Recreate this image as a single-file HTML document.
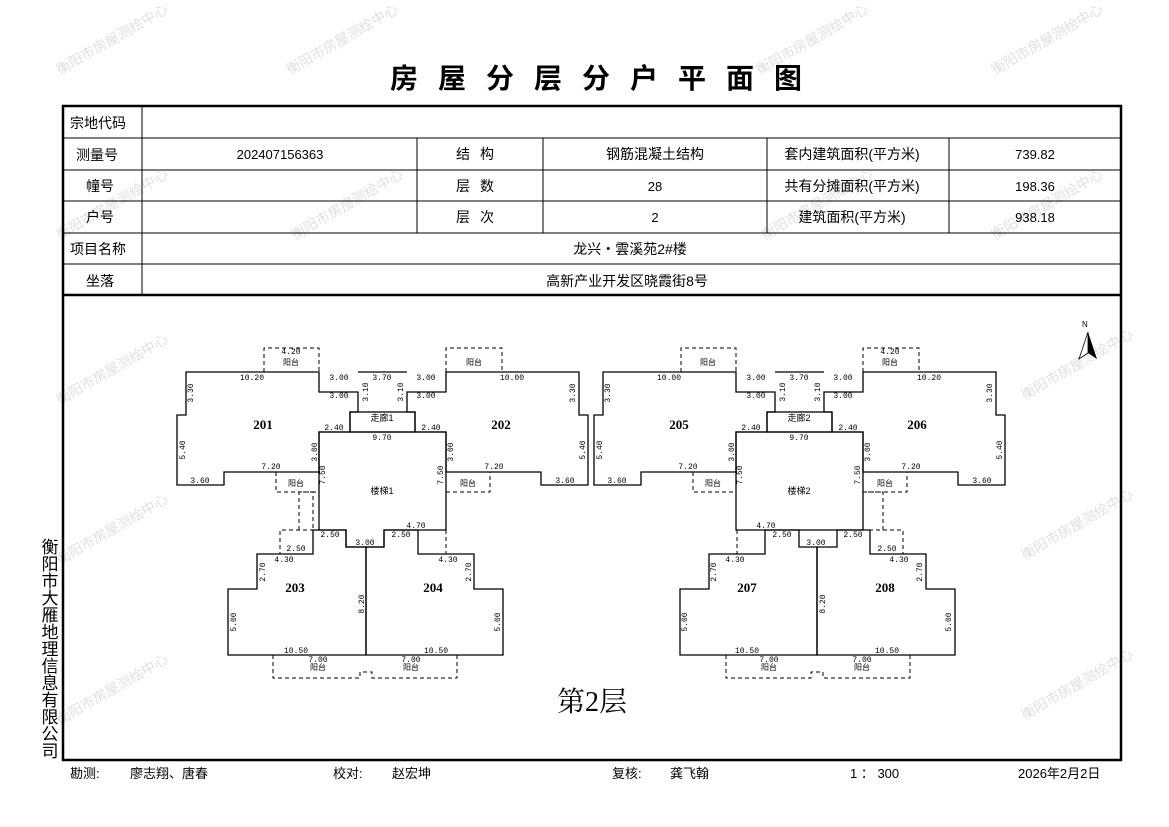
<!DOCTYPE html>
<html><head><meta charset="utf-8"><style>
html,body{margin:0;padding:0;background:#fff;}
body{width:1169px;height:827px;position:relative;overflow:hidden;font-family:"Liberation Sans","Noto Sans CJK SC",sans-serif;}
svg{position:absolute;left:0;top:0;}
</style></head><body>
<svg width="1169" height="827" viewBox="0 0 1169 827" xmlns="http://www.w3.org/2000/svg" font-family="Liberation Sans, Noto Sans CJK SC, sans-serif">
<!-- watermarks -->
<g fill="#e0e0e0" font-size="14">
<text transform="translate(60,75) rotate(-30)">衡阳市房屋测绘中心</text>
<text transform="translate(290,75) rotate(-30)">衡阳市房屋测绘中心</text>
<text transform="translate(760,75) rotate(-30)">衡阳市房屋测绘中心</text>
<text transform="translate(995,75) rotate(-30)">衡阳市房屋测绘中心</text>
<text transform="translate(60,240) rotate(-30)">衡阳市房屋测绘中心</text>
<text transform="translate(295,240) rotate(-30)">衡阳市房屋测绘中心</text>
<text transform="translate(765,240) rotate(-30)">衡阳市房屋测绘中心</text>
<text transform="translate(995,240) rotate(-30)">衡阳市房屋测绘中心</text>
<text transform="translate(60,405) rotate(-30)">衡阳市房屋测绘中心</text>
<text transform="translate(1025,400) rotate(-30)">衡阳市房屋测绘中心</text>
<text transform="translate(60,565) rotate(-30)">衡阳市房屋测绘中心</text>
<text transform="translate(1025,560) rotate(-30)">衡阳市房屋测绘中心</text>
<text transform="translate(60,725) rotate(-30)">衡阳市房屋测绘中心</text>
<text transform="translate(1025,720) rotate(-30)">衡阳市房屋测绘中心</text>
</g>
<!-- title -->
<text x="606" y="88" font-size="28" font-weight="bold" text-anchor="middle" letter-spacing="20">房屋分层分户平面图</text>
<!-- table -->
<g stroke="#000" fill="none">
<rect x="63" y="106" width="1058" height="654" stroke-width="2.5"/>
<line x1="63" y1="295" x2="1121" y2="295" stroke-width="2.5"/>
<g stroke-width="1">
<line x1="63" y1="138" x2="1121" y2="138"/>
<line x1="63" y1="170" x2="1121" y2="170"/>
<line x1="63" y1="201" x2="1121" y2="201"/>
<line x1="63" y1="233" x2="1121" y2="233"/>
<line x1="63" y1="264" x2="1121" y2="264"/>
<line x1="142" y1="106" x2="142" y2="295"/>
<line x1="417" y1="138" x2="417" y2="233"/>
<line x1="543" y1="138" x2="543" y2="233"/>
<line x1="767" y1="138" x2="767" y2="233"/>
<line x1="949" y1="138" x2="949" y2="233"/>
</g></g>
<g font-size="14" fill="#000">
<text x="70" y="128">宗地代码</text>
<text x="76" y="160">测量号</text>
<text x="86" y="191">幢号</text>
<text x="86" y="222">户号</text>
<text x="70" y="254">项目名称</text>
<text x="86" y="286">坐落</text>
<text x="280" y="159" text-anchor="middle" font-size="13">202407156363</text>
<text x="480" y="159" text-anchor="middle" letter-spacing="10">结构</text>
<text x="480" y="191" text-anchor="middle" letter-spacing="10">层数</text>
<text x="480" y="222" text-anchor="middle" letter-spacing="10">层次</text>
<text x="655" y="159" text-anchor="middle">钢筋混凝土结构</text>
<text x="655" y="191" text-anchor="middle" font-size="13">28</text>
<text x="655" y="222" text-anchor="middle" font-size="13">2</text>
<text x="852" y="159" text-anchor="middle">套内建筑面积(平方米)</text>
<text x="852" y="191" text-anchor="middle">共有分摊面积(平方米)</text>
<text x="852" y="222" text-anchor="middle">建筑面积(平方米)</text>
<text x="1035" y="159" text-anchor="middle" font-size="13">739.82</text>
<text x="1035" y="191" text-anchor="middle" font-size="13">198.36</text>
<text x="1035" y="222" text-anchor="middle" font-size="13">938.18</text>
<text x="630" y="254" text-anchor="middle">龙兴・雲溪苑2#楼</text>
<text x="627" y="286" text-anchor="middle">高新产业开发区晓霞街8号</text>
</g>
<!-- left vertical company -->
<g font-size="17" fill="#000" text-anchor="middle">
<text x="50" y="553">衡</text><text x="50" y="570">阳</text><text x="50" y="587">市</text><text x="50" y="604">大</text><text x="50" y="621">雁</text><text x="50" y="638">地</text><text x="50" y="655">理</text><text x="50" y="672">信</text><text x="50" y="689">息</text><text x="50" y="706">有</text><text x="50" y="723">限</text><text x="50" y="740">公</text><text x="50" y="757">司</text>
</g>
<!-- footer -->
<g font-size="13" fill="#000">
<text x="70" y="778">勘测:</text><text x="130" y="778">廖志翔、唐春</text>
<text x="333" y="778">校对:</text><text x="392" y="778">赵宏坤</text>
<text x="612" y="778">复核:</text><text x="670" y="778">龚飞翰</text>
<text x="850" y="778">1 ： 300</text>
<text x="1018" y="778">2026年2月2日</text>
</g>
<!-- north arrow -->
<g><text x="1082" y="327" font-size="8">N</text><polygon points="1088,332 1097,359 1088,353" fill="#000"/><polygon points="1088,332 1079,359 1088,353" fill="#fff" stroke="#000" stroke-width="0.8"/></g>

<!-- LEFT TOP building shapes -->
<g fill="none" stroke="#000" stroke-width="1.3">
<polygon points="186,372 319,372 319,392 358,392 358,412 350,412 350,432 319,432 319,472 224,472 224,485 177,485 177,415 186,415"/>
<polygon points="579,372 446,372 446,392 407,392 407,412 415,412 415,432 446,432 446,472 541,472 541,485 588,485 588,415 579,415"/>
<polygon points="319,432 446,432 446,530 384,530 384,547 346,547 346,530 319,530"/>
<rect x="350" y="412" width="65" height="20"/>
<g stroke-dasharray="4,3" stroke-width="1">
<polyline points="264,372 264,348 319,348 319,372"/>
<polyline points="446,372 446,348 502,348 502,372"/>
<line x1="358" y1="412" x2="407" y2="412"/>
<polyline points="276,472 276,492 319,492"/>
<polyline points="446,492 490,492 490,472"/>
</g>
<line x1="358" y1="372" x2="407" y2="372"/>
</g>
<!-- right top shapes -->
<g transform="translate(417,0)" fill="none" stroke="#000" stroke-width="1.3">
<polygon points="186,372 319,372 319,392 358,392 358,412 350,412 350,432 319,432 319,472 224,472 224,485 177,485 177,415 186,415"/>
<polygon points="579,372 446,372 446,392 407,392 407,412 415,412 415,432 446,432 446,472 541,472 541,485 588,485 588,415 579,415"/>
<polygon points="319,432 446,432 446,530 319,530"/>
<rect x="350" y="412" width="65" height="20"/>
<g stroke-dasharray="4,3" stroke-width="1">
<polyline points="264,372 264,348 319,348 319,372"/>
<polyline points="446,372 446,348 502,348 502,372"/>
<line x1="358" y1="412" x2="407" y2="412"/>
<polyline points="276,472 276,492 319,492"/>
<polyline points="446,492 490,492 490,472"/>
</g>
<line x1="358" y1="372" x2="407" y2="372"/>
</g>
<!-- bottom left -->
<g fill="none" stroke="#000" stroke-width="1.3">
<polygon points="366,547 346,547 346,530 313,530 313,554 257,554 257,589 228,589 228,655 366,655"/>
<polygon points="366,547 384,547 384,530 418,530 418,554 474,554 474,589 503,589 503,655 366,655"/>
<g stroke-dasharray="4,3" stroke-width="1">
<polyline points="299,530 299,492 313,492 313,530"/>
<polyline points="257,554 280,554 280,530 313,530"/>
<polyline points="418,530 446,530 446,554 418,554"/>
<polyline points="273,655 273,678 360,678 360,672 372,672 372,678 457,678 457,655"/>
</g>
</g>
<g transform="translate(1183,0) scale(-1,1)" fill="none" stroke="#000" stroke-width="1.3">
<polygon points="366,547 346,547 346,530 313,530 313,554 257,554 257,589 228,589 228,655 366,655"/>
<polygon points="366,547 384,547 384,530 418,530 418,554 474,554 474,589 503,589 503,655 366,655"/>
<g stroke-dasharray="4,3" stroke-width="1">
<polyline points="300,530 300,492 320,492"/>
<polyline points="257,554 280,554 280,530 313,530"/>
<polyline points="418,530 446,530 446,554 418,554"/>
<polyline points="273,655 273,678 360,678 360,672 372,672 372,678 457,678 457,655"/>
</g>
</g>

<!-- labels -->
<g font-family="Liberation Serif, Noto Serif CJK SC, serif" font-weight="bold" font-size="13" text-anchor="middle">
<text x="263" y="429">201</text><text x="501" y="429">202</text>
<text x="679" y="429">205</text><text x="917" y="429">206</text>
<text x="295" y="592">203</text><text x="433" y="592">204</text>
<text x="747" y="592">207</text><text x="885" y="592">208</text>
</g>
<g font-size="9" text-anchor="middle" fill="#000">
<text x="382" y="494">楼梯1</text><text x="799" y="494">楼梯2</text>
<text x="382" y="421">走廊1</text><text x="799" y="421">走廊2</text>
</g>
<g font-size="8" text-anchor="middle" fill="#000" font-family="Liberation Mono, monospace">
<text x="252" y="380">10.20</text><text x="512" y="380">10.00</text>
<text x="339" y="380">3.00</text><text x="339" y="398">3.00</text>
<text x="426" y="380">3.00</text><text x="426" y="398">3.00</text>
<text x="382" y="380">3.70</text><text x="382" y="440">9.70</text>
<text x="334" y="430">2.40</text><text x="431" y="430">2.40</text>
<text x="200" y="483">3.60</text><text x="565" y="483">3.60</text>
<text x="271" y="469">7.20</text><text x="494" y="469">7.20</text>
<text x="291" y="354">4.20</text><text x="291" y="365">阳台</text><text x="474" y="365">阳台</text>
<text x="296" y="486">阳台</text><text x="468" y="486">阳台</text>
<text x="669" y="380">10.00</text><text x="929" y="380">10.20</text>
<text x="756" y="380">3.00</text><text x="756" y="398">3.00</text>
<text x="843" y="380">3.00</text><text x="843" y="398">3.00</text>
<text x="799" y="380">3.70</text><text x="799" y="440">9.70</text>
<text x="751" y="430">2.40</text><text x="848" y="430">2.40</text>
<text x="617" y="483">3.60</text><text x="982" y="483">3.60</text>
<text x="688" y="469">7.20</text><text x="911" y="469">7.20</text>
<text x="890" y="354">4.20</text><text x="708" y="365">阳台</text><text x="890" y="365">阳台</text>
<text x="713" y="486">阳台</text><text x="885" y="486">阳台</text>
<text x="296" y="551">2.50</text><text x="330" y="537">2.50</text><text x="401" y="537">2.50</text>
<text x="365" y="545">3.00</text><text x="416" y="528">4.70</text>
<text x="284" y="562">4.30</text><text x="448" y="562">4.30</text>
<text x="296" y="653">10.50</text><text x="436" y="653">10.50</text>
<text x="318" y="662">7.00</text><text x="411" y="662">7.00</text>
<text x="318" y="670">阳台</text><text x="411" y="670">阳台</text>
<text x="887" y="551">2.50</text><text x="853" y="537">2.50</text><text x="782" y="537">2.50</text>
<text x="816" y="545">3.00</text><text x="766" y="528">4.70</text>
<text x="735" y="562">4.30</text><text x="899" y="562">4.30</text>
<text x="747" y="653">10.50</text><text x="887" y="653">10.50</text>
<text x="769" y="662">7.00</text><text x="862" y="662">7.00</text>
<text x="769" y="670">阳台</text><text x="862" y="670">阳台</text>
</g>
<g font-size="8" fill="#000" font-family="Liberation Mono, monospace" text-anchor="middle">
<text transform="translate(193,393) rotate(-90)">3.30</text>
<text transform="translate(185,450) rotate(-90)">5.40</text>
<text transform="translate(575,393) rotate(-90)">3.30</text>
<text transform="translate(585,450) rotate(-90)">5.40</text>
<text transform="translate(317,452) rotate(-90)">3.00</text>
<text transform="translate(325,475) rotate(-90)">7.50</text>
<text transform="translate(453,452) rotate(-90)">3.00</text>
<text transform="translate(443,475) rotate(-90)">7.50</text>
<text transform="translate(368,392) rotate(-90)">3.10</text>
<text transform="translate(403,392) rotate(-90)">3.10</text>
<text transform="translate(610,393) rotate(-90)">3.30</text>
<text transform="translate(602,450) rotate(-90)">5.40</text>
<text transform="translate(992,393) rotate(-90)">3.30</text>
<text transform="translate(1002,450) rotate(-90)">5.40</text>
<text transform="translate(734,452) rotate(-90)">3.00</text>
<text transform="translate(742,475) rotate(-90)">7.50</text>
<text transform="translate(870,452) rotate(-90)">3.00</text>
<text transform="translate(860,475) rotate(-90)">7.50</text>
<text transform="translate(785,392) rotate(-90)">3.10</text>
<text transform="translate(820,392) rotate(-90)">3.10</text>
<text transform="translate(265,572) rotate(-90)">2.70</text>
<text transform="translate(471,572) rotate(-90)">2.70</text>
<text transform="translate(236,622) rotate(-90)">5.00</text>
<text transform="translate(500,622) rotate(-90)">5.00</text>
<text transform="translate(364,604) rotate(-90)">8.20</text>
<text transform="translate(716,572) rotate(-90)">2.70</text>
<text transform="translate(922,572) rotate(-90)">2.70</text>
<text transform="translate(687,622) rotate(-90)">5.00</text>
<text transform="translate(951,622) rotate(-90)">5.00</text>
<text transform="translate(825,604) rotate(-90)">8.20</text>
</g>
<text x="592" y="711" font-size="28" text-anchor="middle" font-family="Liberation Serif, Noto Serif CJK SC, serif">第2层</text>
</svg>
</body></html>
